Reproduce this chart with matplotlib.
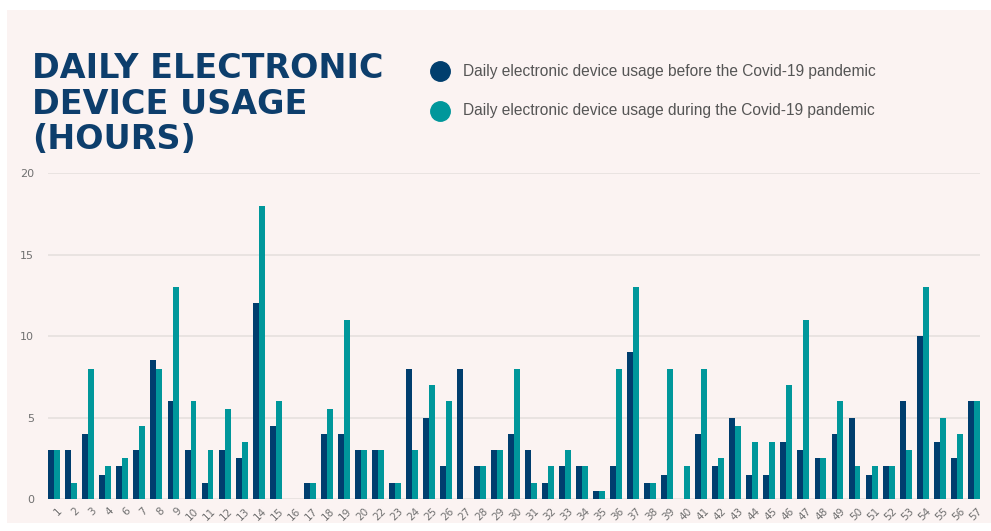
import matplotlib
matplotlib.use("Agg")
import matplotlib.pyplot as plt
import matplotlib.transforms as mtrans
import numpy as np

# categories (5 and 21 are missing in the original)
days = ["1", "2", "3", "4", "6", "7", "8", "9", "10", "11", "12", "13", "14", "15",
        "16", "17", "18", "19", "20", "22", "23", "24", "25", "26", "27", "28", "29",
        "30", "31", "32", "33", "34", "35", "36", "37", "38", "39", "40", "41", "42",
        "43", "44", "45", "46", "47", "48", "49", "50", "51", "52", "53", "54", "55",
        "56", "57"]
before = [3, 3, 4, 1.5, 2, 3, 8.5, 6, 3, 1, 3, 2.5, 12, 4.5,
          0, 1, 4, 4, 3, 3, 1, 8, 5, 2, 8, 2, 3,
          4, 3, 1, 2, 2, 0.5, 2, 9, 1, 1.5, 0, 4, 2,
          5, 1.5, 1.5, 3.5, 3, 2.5, 4, 5, 1.5, 2, 6, 10, 3.5,
          2.5, 6]
during = [3, 1, 8, 2, 2.5, 4.5, 8, 13, 6, 3, 5.5, 3.5, 18, 6,
          0, 1, 5.5, 11, 3, 3, 1, 3, 7, 6, 0, 2, 3,
          8, 1, 2, 3, 2, 0.5, 8, 13, 1, 8, 2, 8, 2.5,
          4.5, 3.5, 3.5, 7, 11, 2.5, 6, 2, 2, 2, 3, 13, 5,
          4, 6]
yticks = [0, 5, 10, 15, 20]

label_before = "Daily electronic device usage before the Covid-19 pandemic"
label_during = "Daily electronic device usage during the Covid-19 pandemic"

navy = "#003e6e"
teal = "#00979b"
bg = "#fbf3f2"

fig = plt.figure(figsize=(9.91, 5.31), dpi=100)
fig.patch.set_facecolor("white")

# pink panel behind everything
bgax = fig.add_axes([7 / 991, 1 - 523 / 531, 1, (523 - 10) / 531], zorder=0)
bgax.axis("off")
bgax.add_patch(plt.Rectangle((0, 0), 1, 1, transform=bgax.transAxes, facecolor=bg, edgecolor="none"))

ax = fig.add_axes([48 / 991, 1 - 499 / 531, (980 - 48) / 991, (499 - 173) / 531], zorder=2)
ax.set_facecolor("none")

x = np.arange(len(days))
w = 0.35
ax.bar(x - w / 2, before, width=w, color=navy, zorder=3)
ax.bar(x + w / 2, during, width=w, color=teal, zorder=3)

ax.set_xlim(-0.37, len(days) - 1 + 0.37)
ax.set_ylim(0, 20)
ax.set_yticks(yticks)
ax.set_yticklabels([str(v) for v in yticks], fontsize=8, color="#707070", family="DejaVu Sans")
ax.grid(axis="y", color="#e6e0de", linewidth=1.2, zorder=0)
ax.tick_params(axis="y", length=0, pad=10)
ax.set_xticks(x)
ax.set_xticklabels(days, rotation=45, ha="right", rotation_mode="anchor",
                   fontsize=7.5, color="#707070", family="DejaVu Sans")
ax.tick_params(axis="x", length=0, pad=5)
shift = mtrans.ScaledTranslation(3 / 100, 0, fig.dpi_scale_trans)
for lbl in ax.get_xticklabels():
    lbl.set_transform(lbl.get_transform() + shift)
for s in ax.spines.values():
    s.set_visible(False)

# title
fig.text(32 / 991, 1 - 52 / 531, "DAILY ELECTRONIC\nDEVICE USAGE\n(HOURS)",
         ha="left", va="top", fontsize=24, fontweight="bold", color="#0d3e6c",
         family="DejaVu Sans", linespacing=1.1, zorder=3)

# legend
for yy, col, lab in [(71, navy, label_before), (111, teal, label_during)]:
    fig.lines.append(plt.Line2D([440 / 991], [1 - yy / 531], marker="o", markersize=14,
                                color=col, linestyle="none", transform=fig.transFigure, zorder=3))
    fig.text(463 / 991, 1 - yy / 531, lab, ha="left", va="center", fontsize=11.2,
             color="#555555", family="Liberation Sans", zorder=3)

fig.savefig("out.png", dpi=100, facecolor=fig.get_facecolor())
